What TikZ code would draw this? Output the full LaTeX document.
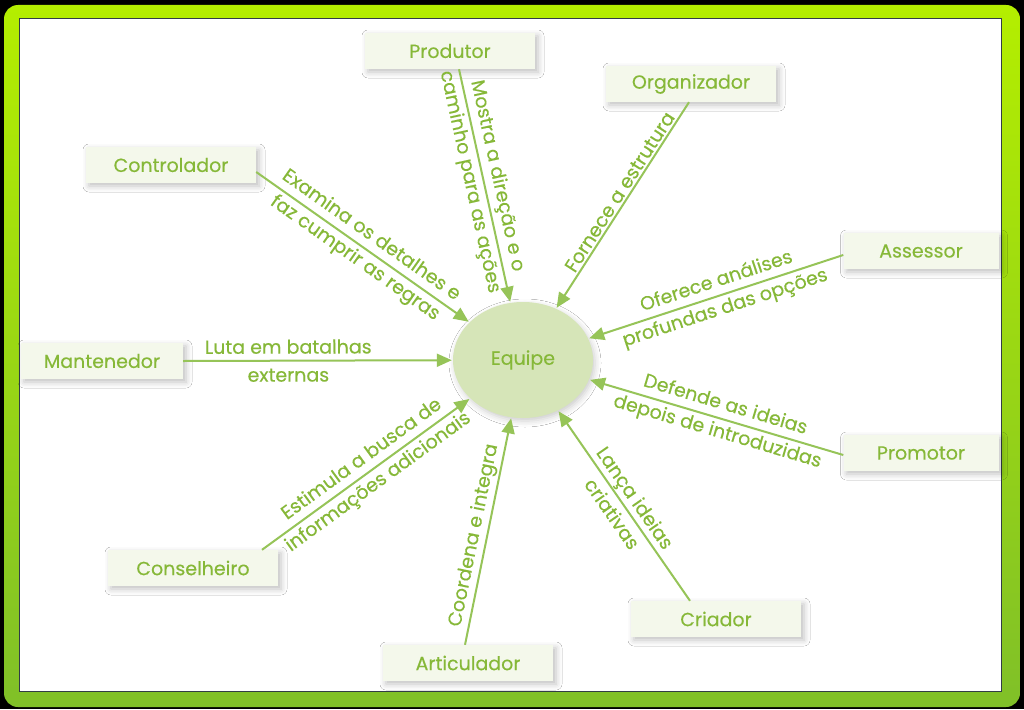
\documentclass[tikz,border=0pt]{standalone}
\usepackage{fontspec}
\setmainfont{Poppins}[FakeBold=0.3]
\usetikzlibrary{arrows.meta,shadows.blur,shapes.geometric,calc}
\definecolor{txtg}{RGB}{134,184,56}
\definecolor{arrg}{RGB}{150,196,88}
\definecolor{boxf}{RGB}{244,248,235}
\definecolor{ellf}{RGB}{214,229,184}
\definecolor{limetop}{RGB}{180,238,0}
\definecolor{limebot}{RGB}{128,192,40}
\definecolor{frameb}{RGB}{50,60,70}
\begin{document}
\begin{tikzpicture}[x=1pt,y=-1pt,
  role/.style={fill=boxf, minimum width=170pt, minimum height=36pt, inner sep=0pt,
    text=txtg, font=\fontsize{19}{22}\selectfont,
    blur shadow={shadow xshift=3pt, shadow yshift=-3pt, shadow blur radius=6pt, shadow opacity=25}},
  hub/.style={ellipse, fill=ellf, minimum width=140pt, minimum height=116pt, inner sep=0pt,
    text=txtg, font=\fontsize{19}{22}\selectfont,
    blur shadow={shadow xshift=2pt, shadow yshift=-3pt, shadow blur radius=6pt, shadow opacity=20}},
  link/.style={draw=arrg, line width=2pt, -{Triangle[length=15pt,width=13pt]}, shorten >=1pt},
  lab/.style={sloped, align=center, text=txtg, font=\fontsize{19}{23}\selectfont, inner sep=1pt}
]
\path[use as bounding box] (0,0) rectangle (1024,709);
\fill[black] (0,0) rectangle (1024,709);
\shade[top color=limetop, bottom color=limebot, rounded corners=14pt] (4,5) rectangle (1020,707);
\filldraw[fill=white, draw=frameb, line width=1pt] (19,19) rectangle (1001,691);

\node[hub] (eq) at (523,360) {Equipe};

\node[role] (prod) at (450,51) {Produtor};
\node[role] (org) at (691,84) {Organizador};
\node[role] (ctrl) at (171,165) {Controlador};
\node[role, minimum width=155pt] (ass) at (921,251) {Assessor};
\node[role, minimum width=162pt] (mant) at (102,361) {Mantenedor};
\node[role, minimum width=155pt] (prom) at (921,453) {Promotor};
\node[role] (cons) at (193,568) {Conselheiro};
\node[role] (cri) at (716,619) {Criador};
\node[role] (art) at (468,663) {Articulador};

\draw[link] ($(prod.south)+(9,0)$) -- node[lab, pos=0.47] {Mostra a direção e o\\[5pt]caminho para as ações} (eq);
\draw[link] ($(org.south)+(-2,0)$) -- node[lab, above, pos=0.46, yshift=1pt] {Fornece a estrutura} (eq);
\draw[link] ($(ctrl.east)+(0,7)$) -- node[lab, pos=0.5] {Examina os detalhes e\\[5pt]faz cumprir as regras} (eq);
\draw[link] ($(ass.west)+(0,4)$) -- node[lab, pos=0.48] {Oferece análises\\[5pt]profundas das opções} (eq);
\draw[link] (mant.east) -- node[lab, pos=0.39] {Luta em batalhas\\[5pt]externas} (eq);
\draw[link] ($(prom.west)+(0,2)$) -- node[lab, pos=0.48] {Defende as ideias\\[5pt]depois de introduzidas} (eq);
\draw[link] ($(cons.north)+(69,0)$) -- node[lab, pos=0.52] {Estimula a busca de\\[5pt]informações adicionais} (eq);
\draw[link] ($(cri.north)+(-26,0)$) -- node[lab, pos=0.5] {Lança ideias\\[5pt]criativas} (eq);
\draw[link] ($(art.north)+(-3,0)$) -- node[lab, above, pos=0.47, yshift=1pt] {Coordena e integra} (eq);
\end{tikzpicture}
\end{document}
